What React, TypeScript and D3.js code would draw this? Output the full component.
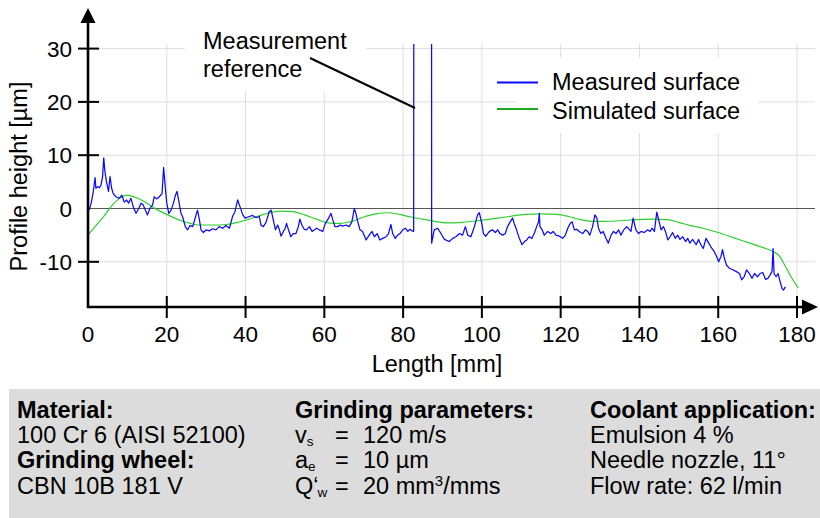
import React from 'react';
import * as d3 from 'd3';

// ---------- data ----------
const xTickValues = [0, 20, 40, 60, 80, 100, 120, 140, 160, 180];
const yTickValues = [-10, 0, 10, 20, 30];
const yGridValues = [-10, 10, 20, 30];

// Measured surface profile [length mm, height µm]
const measured: [number, number][] = [
  [0.3, -0.3], [0.8, 1.0], [1.35, 3.2], [1.8, 5.8], [2.0, 3.8], [2.45, 4.1], [2.9, 3.9], [3.3, 4.4],
  [3.7, 6.0], [4.0, 9.5], [4.3, 6.9], [4.7, 5.0], [5.2, 3.2], [5.6, 6.0], [6.0, 3.8], [6.4, 2.8],
  [7.1, 2.2], [7.95, 1.9], [8.6, 2.5], [9.2, 1.2], [9.8, 1.6], [10.3, 1.0], [10.9, 1.9], [11.5, 0.3],
  [12.2, -0.9], [12.9, 0.0], [13.45, 1.0], [14.0, 0.7], [14.55, -0.3], [15.1, -1.2], [15.7, 0.0],
  [16.4, 0.7], [16.8, 2.2], [17.4, 1.8], [18.1, 2.2], [18.8, 2.8], [19.2, 7.7], [19.5, 5.0],
  [20.0, 1.0], [20.5, -0.9], [21.1, -0.3], [21.7, 1.0], [22.2, 2.5], [22.6, 3.2], [23.0, 1.6],
  [23.6, -0.9], [24.0, -1.5], [24.7, -3.4], [25.3, -4.0], [25.9, -3.2], [26.6, -3.4], [27.4, -1.3],
  [27.8, -0.3], [28.3, -2.2], [28.7, -4.0], [29.3, -4.5], [29.95, -4.0], [30.8, -4.2], [31.6, -3.8],
  [32.5, -4.0], [33.3, -3.4], [34.2, -3.7], [35.0, -3.2], [35.9, -3.7], [36.7, -1.5], [37.3, -0.6],
  [38.0, 1.6], [38.6, 0.3], [39.3, -1.2], [39.9, -1.8], [40.95, -1.5], [41.8, -1.3], [42.6, -1.7],
  [43.5, -1.5], [43.9, -3.1], [44.5, -3.4], [45.2, -2.6], [46.0, -0.6], [46.5, -0.3], [47.05, -2.2],
  [47.6, -4.0], [48.15, -3.1], [48.6, -4.0], [49.0, -5.2], [49.6, -4.3], [50.1, -3.7], [50.4, -2.8],
  [50.9, -4.0], [51.5, -5.3], [52.1, -4.7], [52.8, -4.7], [53.4, -3.4], [53.8, -2.0], [54.3, -3.1],
  [54.9, -3.9], [55.5, -4.0], [56.2, -3.4], [56.9, -4.3], [57.5, -4.0], [58.05, -3.7], [58.7, -4.0],
  [59.6, -4.3], [60.25, -2.8], [61.1, -1.8], [61.7, -0.9], [62.1, -2.0], [62.7, -3.4], [63.4, -3.4],
  [64.0, -3.1], [64.65, -3.3], [65.5, -3.1], [66.3, -3.4], [67.0, -2.5], [67.6, 0.0], [68.0, -0.9],
  [68.5, -2.5], [69.05, -4.0], [69.7, -4.3], [70.6, -5.9], [71.4, -5.0], [72.1, -4.3], [72.7, -5.3],
  [73.4, -4.7], [74.1, -5.9], [74.8, -5.6], [75.7, -5.3], [76.3, -4.7], [76.9, -3.0], [77.35, -4.7],
  [78.0, -5.6], [78.6, -5.0], [79.2, -4.7], [79.9, -4.0], [80.6, -3.7], [81.2, -4.3], [81.75, -3.9],
  [82.25, -4.2], [82.68, -4.3], [82.72, 45], [87.22, 45], [87.25, -6.5], [87.9, -4.0], [88.8, -3.7],
  [89.6, -4.7], [90.5, -5.8], [91.7, -6.2], [92.6, -5.6], [93.4, -5.3], [94.3, -4.7], [95.1, -5.0],
  [95.8, -3.4], [96.4, -5.0], [97.2, -5.3], [98.1, -3.4], [98.9, -1.2], [99.35, -0.8], [99.9, -2.5],
  [100.4, -4.7], [101.0, -5.2], [101.9, -4.3], [102.7, -4.0], [103.4, -4.5], [104.0, -4.0],
  [104.6, -4.7], [105.3, -5.0], [105.95, -4.7], [106.5, -3.4], [107.2, -2.5], [107.8, -1.8],
  [108.2, -2.8], [108.8, -4.0], [109.5, -5.6], [110.2, -6.8], [110.8, -6.2], [111.4, -5.9],
  [112.0, -5.3], [112.7, -5.6], [113.3, -4.7], [113.9, -3.4], [114.4, -2.5], [114.58, -0.9],
  [114.75, -3.4], [115.3, -4.0], [115.85, -5.0], [116.7, -4.3], [117.5, -4.7], [118.1, -4.3],
  [118.8, -5.0], [119.7, -5.2], [120.5, -5.6], [121.2, -5.0], [121.8, -3.7], [122.4, -2.8],
  [122.9, -2.5], [123.5, -4.0], [124.1, -3.9], [124.7, -4.3], [125.6, -4.7], [126.3, -4.0],
  [126.85, -4.3], [127.4, -5.0], [128.1, -3.4], [128.7, -1.2], [129.2, -1.8], [129.6, -3.7],
  [130.2, -4.7], [130.8, -4.3], [131.5, -5.6], [132.1, -6.5], [132.8, -5.0], [133.4, -4.3],
  [134.05, -4.7], [134.7, -4.0], [135.3, -5.0], [136.0, -4.0], [136.8, -3.4], [137.85, -4.3],
  [138.4, -1.8], [139.1, -4.0], [139.8, -4.7], [140.4, -4.3], [141.2, -4.5], [142.1, -4.0],
  [142.7, -4.3], [143.2, -3.7], [143.8, -4.3], [144.4, -0.7], [144.9, -2.2], [145.5, -4.0],
  [146.1, -3.4], [146.6, -4.3], [147.2, -5.9], [147.8, -5.3], [148.4, -4.5], [149.1, -5.6],
  [149.7, -5.0], [150.3, -5.8], [151.0, -5.3], [151.7, -6.2], [152.25, -5.6], [152.8, -6.5],
  [153.5, -5.8], [154.4, -6.8], [155.0, -5.8], [155.6, -6.8], [156.2, -7.5], [156.9, -5.6],
  [157.6, -6.5], [158.4, -7.5], [159.0, -8.1], [159.6, -9.0], [160.1, -10.0], [160.7, -9.0],
  [161.1, -7.7], [161.55, -9.3], [162.1, -10.6], [162.8, -11.2], [163.7, -11.5], [164.5, -11.8],
  [165.4, -12.2], [165.95, -13.4], [166.6, -12.8], [167.2, -11.5], [167.9, -12.2], [168.6, -13.1],
  [169.2, -12.2], [170.0, -12.8], [170.6, -12.2], [171.3, -12.0], [172.0, -13.3], [172.6, -13.1],
  [173.15, -12.5], [173.66, -11.8], [173.92, -7.5], [174.17, -12.2], [174.7, -12.8], [175.2, -12.2],
  [175.7, -13.7], [176.2, -15.0], [176.55, -15.3], [177.05, -14.7],
];

// Simulated surface profile [length mm, height µm]
const simulated: [number, number][] = [
  [0, -5.0], [2, -3.2], [4, -1.5], [6, 0.5], [8, 1.9], [10, 2.5], [12, 2.1], [14, 1.4], [16, 0.5],
  [18, -0.4], [20, -1.1], [22, -1.8], [24, -2.4], [26, -2.8], [28, -3.1], [30, -3.1], [32, -3.1],
  [35, -3.0], [38, -2.6], [40, -2.2], [43, -1.5], [46, -0.8], [49, -0.5], [52, -0.6], [55, -1.2],
  [58, -2.0], [61, -2.7], [64, -2.8], [67, -2.4], [70, -1.6], [73, -1.0], [76, -0.8], [79, -1.1],
  [82, -1.6], [85, -2.0], [88, -2.4], [91, -2.7], [95, -2.6], [99, -2.3], [103, -1.9], [107, -1.5],
  [111, -1.1], [115, -1.0], [119, -1.1], [122, -1.5], [125, -2.1], [128, -2.4], [131, -2.4],
  [135, -2.3], [139, -2.1], [143, -2.0], [147, -2.1], [150, -2.6], [153, -3.2], [156, -3.7],
  [160, -4.5], [164, -5.5], [168, -6.5], [172, -7.5], [174, -8.1], [175.5, -8.9], [177, -10.8],
  [178.5, -12.8], [180.3, -14.9],
];

const legendLabels = ['Measured surface', 'Simulated surface'];
const annotationLines = ['Measurement', 'reference'];
const xAxisTitle = 'Length [mm]';
const yAxisTitle = 'Profile height [µm]';

const materialCol = [
  { text: 'Material:', bold: true },
  { text: '100 Cr 6 (AISI 52100)', bold: false },
  { text: 'Grinding wheel:', bold: true },
  { text: 'CBN 10B 181 V', bold: false },
];
const paramSymbols = [
  { main: 'v', sub: 's' },
  { main: 'a', sub: 'e' },
  { main: 'Q‘', sub: 'w' },
];
const paramValues = ['120 m/s', '10 µm', '20 mm'];
const coolantCol = [
  { text: 'Coolant application:', bold: true },
  { text: 'Emulsion 4 %', bold: false },
  { text: 'Needle nozzle, 11°', bold: false },
  { text: 'Flow rate: 62 l/min', bold: false },
];

// ---------- layout ----------
const W = 820;
const H = 518;
const FONT = 'Liberation Sans, Arial, Helvetica, sans-serif';
const left = 88;
const plotTop = 44;
const plotBottom = 307;
const plotRight = 815;
const FS = 23.5;

export default function App() {
  const x = d3.scaleLinear().domain([0, 180]).range([88, 797]);
  const y = d3.scaleLinear().domain([-10, 30]).range([261.8, 48.6]);

  const line = d3
    .line<[number, number]>()
    .x((d) => x(d[0]))
    .y((d) => y(d[1]));
  const smooth = d3
    .line<[number, number]>()
    .x((d) => x(d[0]))
    .y((d) => y(d[1]))
    .curve(d3.curveMonotoneX);

  const rowY = [418, 443, 468, 494];

  return (
    <svg
      width={W}
      height={H}
      viewBox={`0 0 ${W} ${H}`}
      style={{ position: 'absolute', left: 0, top: 0, background: '#fff' }}
      fontFamily={FONT}
    >
      <defs>
        <clipPath id="plotClip">
          <rect x={left} y={plotTop} width={plotRight - left} height={plotBottom - plotTop} />
        </clipPath>
      </defs>

      {/* grid */}
      {xTickValues.filter((v) => v > 0).map((v) => (
        <line key={'gx' + v} x1={x(v)} x2={x(v)} y1={plotTop} y2={plotBottom} stroke="#dedede" strokeWidth={1} />
      ))}
      {yGridValues.map((v) => (
        <line key={'gy' + v} x1={left} x2={plotRight} y1={y(v)} y2={y(v)} stroke="#dedede" strokeWidth={1} />
      ))}
      <line x1={left} x2={plotRight} y1={y(0)} y2={y(0)} stroke="#555" strokeWidth={1} />

      {/* white boxes behind annotation and legend */}
      <rect x={185} y={18} width={181} height={74} fill="#fff" />
      <rect x={517} y={58} width={241} height={75} fill="#fff" />

      {/* data */}
      <g clipPath="url(#plotClip)">
        <path d={smooth(simulated) || ''} fill="none" stroke="#2ccf2c" strokeWidth={1.2} />
        <path d={line(measured) || ''} fill="none" stroke="#0a0aff" strokeWidth={1.25} strokeLinejoin="round" />
      </g>

      {/* axes */}
      <line x1={left} x2={left} y1={plotBottom + 1} y2={20} stroke="#000" strokeWidth={2.6} />
      <polygon points={`${left},8 ${left - 7.5},23 ${left + 7.5},23`} fill="#000" />
      <line x1={left - 1} x2={805} y1={plotBottom} y2={plotBottom} stroke="#000" strokeWidth={2.6} />
      <polygon points={`818,${plotBottom} 802,${plotBottom - 7.5} 802,${plotBottom + 7.5}`} fill="#000" />

      {xTickValues.filter((v) => v > 0).map((v) => (
        <line key={'tx' + v} x1={x(v)} x2={x(v)} y1={plotBottom - 11} y2={plotBottom + 11} stroke="#000" strokeWidth={2} />
      ))}
      {yTickValues.filter((v) => v !== 0).map((v) => (
        <line key={'ty' + v} x1={left - 10} x2={left + 11} y1={y(v)} y2={y(v)} stroke="#000" strokeWidth={2} />
      ))}

      {xTickValues.map((v) => (
        <text key={'lx' + v} x={x(v)} y={342} fontSize={22.5} textAnchor="middle" fill="#000">
          {v}
        </text>
      ))}
      {yTickValues.map((v) => (
        <text key={'ly' + v} x={72} y={y(v) + 8} fontSize={22.5} textAnchor="end" fill="#000">
          {v}
        </text>
      ))}

      <text x={437} y={372} fontSize={FS} textAnchor="middle" fill="#000">
        {xAxisTitle}
      </text>
      <text transform="translate(27,176.5) rotate(-90)" fontSize={FS} textAnchor="middle" fill="#000">
        {yAxisTitle}
      </text>

      {/* annotation */}
      {annotationLines.map((t, i) => (
        <text key={t} x={203} y={49 + i * 28} fontSize={FS} fill="#000">
          {t}
        </text>
      ))}
      <line x1={310} y1={58} x2={415} y2={108} stroke="#000" strokeWidth={2} />

      {/* legend */}
      {legendLabels.map((t, i) => (
        <g key={t}>
          <line x1={497} x2={538} y1={82.5 + i * 26.5} y2={82.5 + i * 26.5} stroke={i === 0 ? '#0a0aff' : '#1fa81f'} strokeWidth={2} />
          <text x={552} y={90 + i * 29} fontSize={FS} fill="#000">
            {t}
          </text>
        </g>
      ))}

      {/* info panel */}
      <rect x={9} y={389} width={W - 9} height={H - 389} fill="#dcdcdc" />
      {materialCol.map((r, i) => (
        <text key={'m' + i} x={17} y={rowY[i]} fontSize={FS} fontWeight={r.bold ? 'bold' : 'normal'} fill="#000">
          {r.text}
        </text>
      ))}
      <text x={295} y={rowY[0]} fontSize={FS} fontWeight="bold" fill="#000">
        Grinding parameters:
      </text>
      {paramSymbols.map((p, i) => (
        <g key={'p' + i}>
          <text x={295} y={rowY[i + 1]} fontSize={FS} fill="#000">
            {p.main}
            <tspan fontSize={13.5} dy={3} dx={i === 2 ? -1 : 0}>{p.sub}</tspan>
          </text>
          <text x={335} y={rowY[i + 1]} fontSize={FS} fill="#000">=</text>
          <text x={363} y={rowY[i + 1]} fontSize={FS} fill="#000">
            {paramValues[i]}
            {i === 2 ? (
              <>
                <tspan fontSize={15} dy={-8}>3</tspan>
                <tspan dy={8}>/mms</tspan>
              </>
            ) : null}
          </text>
        </g>
      ))}
      {coolantCol.map((r, i) => (
        <text key={'c' + i} x={590} y={rowY[i]} fontSize={FS} fontWeight={r.bold ? 'bold' : 'normal'} fill="#000">
          {r.text}
        </text>
      ))}
    </svg>
  );
}
